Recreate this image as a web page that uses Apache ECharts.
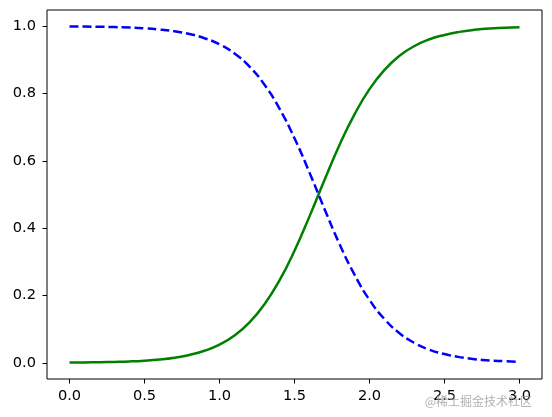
<!DOCTYPE html>
<html>
<head>
<meta charset="utf-8">
<script src="https://cdn.jsdelivr.net/npm/echarts@6/dist/echarts.min.js"></script>
<style>
html,body{margin:0;padding:0;background:#fff;}
#chart{width:552px;height:417px;}
</style>
</head>
<body>
<div id="chart"></div>
<script>
// x positions (petal width)
const xValues = [0.0,0.1,0.2,0.3,0.4,0.5,0.6,0.7,0.8,0.9,1.0,1.1,1.2,1.3,1.4,1.5,1.6,1.7,1.8,1.9,2.0,2.1,2.2,2.3,2.4,2.5,2.6,2.7,2.8,2.9,3.0];
// green solid curve
const greenValues = [0.001,0.0012,0.0018,0.0028,0.0042,0.0065,0.010,0.0154,0.0235,0.0358,0.054,0.081,0.120,0.174,0.245,0.333,0.435,0.543,0.647,0.738,0.813,0.870,0.912,0.941,0.961,0.974,0.983,0.989,0.993,0.995,0.997];
// blue dashed curve
const blueValues = [0.999,0.9988,0.9982,0.9972,0.9958,0.9935,0.990,0.9846,0.9765,0.9642,0.946,0.919,0.880,0.826,0.755,0.667,0.565,0.457,0.353,0.262,0.187,0.130,0.088,0.059,0.039,0.026,0.017,0.011,0.007,0.005,0.003];
const xTicks = [0.0,0.5,1.0,1.5,2.0,2.5,3.0];
const yTicks = [0.0,0.2,0.4,0.6,0.8,1.0];
const watermark = '@稀土掘金技术社区';

const chart = echarts.init(document.getElementById('chart'), null, {renderer:'canvas'});
const font = 'DejaVu Sans';
chart.setOption({
  animation:false,
  backgroundColor:'#fff',
  grid:{left:47,right:10,top:10,bottom:38,show:true,borderColor:'#000',borderWidth:1,backgroundColor:'transparent'},
  xAxis:{
    type:'value', min:-0.15, max:3.15,
    axisLine:{show:false,onZero:false},
    splitLine:{show:false},
    axisTick:{show:true,length:4.5,inside:false,lineStyle:{color:'#000',width:1},customValues:xTicks},
    axisLabel:{show:true,customValues:xTicks,margin:10,color:'#000',fontFamily:font,fontSize:14.6,
      formatter:v=>v.toFixed(1)}
  },
  yAxis:{
    type:'value', min:-0.048, max:1.048,
    axisLine:{show:false,onZero:false},
    splitLine:{show:false},
    axisTick:{show:true,length:4.5,lineStyle:{color:'#000',width:1},customValues:yTicks},
    axisLabel:{show:true,customValues:yTicks,margin:11,color:'#000',fontFamily:font,fontSize:14.6,
      formatter:v=>v.toFixed(1)}
  },
  series:[
    {type:'line',data:xValues.map((x,i)=>[x,greenValues[i]]),smooth:true,showSymbol:false,
      lineStyle:{color:'#008000',width:2.5}},
    {type:'line',data:xValues.map((x,i)=>[x,blueValues[i]]),smooth:true,showSymbol:false,
      lineStyle:{color:'#0000ff',width:2.5,type:[9,4]}}
  ],
  graphic:[{type:'text',right:20,bottom:10,z:100,
    style:{text:watermark,fill:'rgba(150,150,150,0.75)',font:'12px "Noto Sans CJK SC"'}}]
});
</script>
</body>
</html>
